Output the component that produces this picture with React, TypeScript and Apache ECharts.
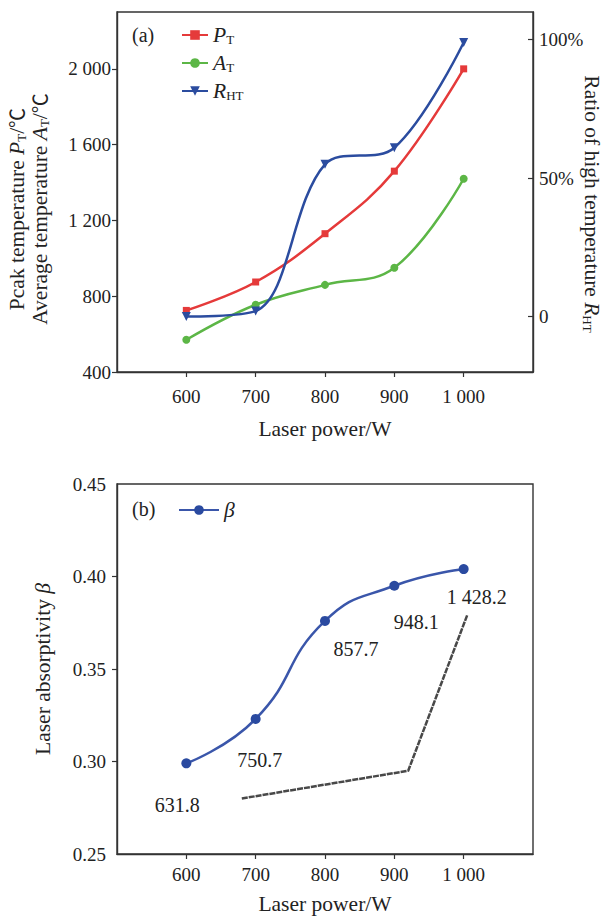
import React, { useEffect, useRef } from 'react';
import * as echarts from 'echarts';

const laserPower = [600, 700, 800, 900, 1000];
const xTickLabels = ['600', '700', '800', '900', '1 000'];
const peakTemp = [725, 875, 1130, 1460, 2000];
const avgTemp = [570, 755, 860, 950, 1420];
const highTempRatio = [0, 2, 55, 61, 99];
const tempTicks = [400, 800, 1200, 1600, 2000];
const tempTickLabels = ['400', '800', '1 200', '1 600', '2 000'];
const ratioTicks = [0, 50, 100];
const ratioTickLabels = ['0', '50%', '100%'];
const absorptivity = [0.299, 0.323, 0.376, 0.395, 0.404];
const absTicks = [0.25, 0.3, 0.35, 0.4, 0.45];
const absTickLabels = ['0.25', '0.30', '0.35', '0.40', '0.45'];
const avgTempLabels = ['631.8', '750.7', '857.7', '948.1', '1 428.2'];
const trendX = [680, 920, 1005];
const trendY = [0.28, 0.295, 0.379];

const labelOffsets = [[-9, 42], [4, 41], [31, 28], [22, 36], [13, 28]];

const SERIF = '"Liberation Serif", "Times New Roman", serif';
const CJK = '"Noto Sans CJK SC", "Liberation Serif", serif';
const TXT = '#222';
const AXIS = '#333';

const rich = {
  i: { fontStyle: 'italic', fontSize: 21.5, fontFamily: SERIF, color: TXT },
  s: { fontSize: 13, lineHeight: 12, verticalAlign: 'bottom', fontFamily: SERIF, color: TXT },
  c: { fontSize: 20, fontFamily: CJK, color: TXT },
};

const lookup = (ticks: number[], labels: string[]) => (v: number) => {
  const i = ticks.findIndex((t) => Math.abs(t - v) < 1e-9);
  return i >= 0 ? labels[i] : '';
};

const legendNames: Record<string, string> = {
  PT: '{i|P}{s|T}',
  AT: '{i|A}{s|T}',
  RHT: '{i|R}{s|HT}',
  beta: '{i|β}',
};

export default function App() {
  const ref = useRef<HTMLDivElement>(null);
  useEffect(() => {
    if (!ref.current) return;
    const chart = echarts.init(ref.current, undefined, { renderer: 'svg' });
    const axisLine = { show: true, onZero: false, lineStyle: { color: AXIS, width: 1.4 } };
    const labelStyle = { fontFamily: SERIF, fontSize: 19, color: TXT };
    const xAxisBase = (gridIndex: number, margin: number, nameGap: number) => ({
      type: 'value',
      gridIndex,
      min: 500,
      max: 1100,
      axisLine,
      splitLine: { show: false },
      axisTick: { show: true, inside: false, length: 5, customValues: laserPower, lineStyle: { color: AXIS, width: 1.2 } },
      axisLabel: { ...labelStyle, margin, customValues: laserPower, formatter: lookup(laserPower, xTickLabels) },
      name: 'Laser power/W',
      nameLocation: 'middle',
      nameGap,
      nameMoveOverlap: false,
      nameTextStyle: { fontFamily: SERIF, fontSize: 21.5, color: TXT },
    });
    const legendItem = (name: string, left: number, top: number, itemWidth: number) => ({
      left, top, orient: 'vertical', itemWidth, itemHeight: 12,
      data: [name],
      formatter: (n: string) => legendNames[n],
      textStyle: { fontFamily: SERIF, fontSize: 20, color: TXT, rich },
    });
    const option: any = {
      animation: false,
      backgroundColor: '#fff',
      textStyle: { fontFamily: SERIF },
      grid: [
        { left: 117, top: 12, width: 416, height: 360, show: true, borderColor: AXIS, borderWidth: 1.4, backgroundColor: 'transparent', outerBoundsMode: 'none' },
        { left: 117, top: 484, width: 416, height: 370, show: true, borderColor: AXIS, borderWidth: 1.4, backgroundColor: 'transparent', outerBoundsMode: 'none' },
      ],
      xAxis: [xAxisBase(0, 15, 46), xAxisBase(1, 11, 39)],
      yAxis: [
        {
          type: 'value', gridIndex: 0, position: 'left', min: 400, max: 2300,
          axisLine, splitLine: { show: false },
          axisTick: { show: true, length: 5, customValues: tempTicks, lineStyle: { color: AXIS, width: 1.2 } },
          axisLabel: { ...labelStyle, margin: 6, customValues: tempTicks, formatter: lookup(tempTicks, tempTickLabels) },
          name: 'Pcak temperature {i|P}{s|T}/{c|℃}\nAverage temperature {i|A}{s|T}/{c|℃}',
          nameLocation: 'middle', nameGap: 66, nameRotate: 90, nameMoveOverlap: false,
          nameTextStyle: { fontFamily: SERIF, fontSize: 21.5, lineHeight: 23, color: TXT, rich, padding: [0, 34, 0, 0] },
        },
        {
          type: 'value', gridIndex: 0, position: 'right', min: -20, max: 110,
          axisLine, splitLine: { show: false },
          axisTick: { show: true, inside: true, length: 5, customValues: ratioTicks, lineStyle: { color: AXIS, width: 1.2 } },
          axisLabel: { ...labelStyle, margin: 6, customValues: ratioTicks, formatter: lookup(ratioTicks, ratioTickLabels) },
          name: 'Ratio of high temperature {i|R}{s|HT}',
          nameLocation: 'middle', nameGap: 48, nameRotate: -90, nameMoveOverlap: false,
          nameTextStyle: { fontFamily: SERIF, fontSize: 21.5, color: TXT, rich, padding: [0, 0, 0, 24] },
        },
        {
          type: 'value', gridIndex: 1, position: 'left', min: 0.25, max: 0.45,
          axisLine, splitLine: { show: false },
          axisTick: { show: true, length: 5, customValues: [0.3, 0.35, 0.4], lineStyle: { color: AXIS, width: 1.2 } },
          axisLabel: { ...labelStyle, margin: 11, customValues: absTicks, formatter: lookup(absTicks, absTickLabels) },
          name: 'Laser absorptivity {i|β}',
          nameLocation: 'middle', nameGap: 63, nameRotate: 90, nameMoveOverlap: false,
          nameTextStyle: { fontFamily: SERIF, fontSize: 21.5, color: TXT, rich },
        },
      ],
      legend: [
        legendItem('PT', 176, 19, 26),
        legendItem('AT', 176, 47, 26),
        legendItem('RHT', 176, 75, 26),
        legendItem('beta', 173, 494, 40),
      ],
      graphic: [
        { type: 'text', left: 132, top: 25, style: { text: '(a)', font: `20px ${SERIF}`, fill: TXT } },
        { type: 'text', left: 132, top: 499, style: { text: '(b)', font: `20px ${SERIF}`, fill: TXT } },
      ],
      series: [
        {
          name: 'PT', type: 'line', xAxisIndex: 0, yAxisIndex: 0, smooth: 0.4,
          data: laserPower.map((x, i) => [x, peakTemp[i]]),
          symbol: 'rect', symbolSize: 7,
          lineStyle: { color: '#e53a3a', width: 2.5 }, itemStyle: { color: '#e53a3a' },
        },
        {
          name: 'AT', type: 'line', xAxisIndex: 0, yAxisIndex: 0, smooth: 0.4,
          data: laserPower.map((x, i) => [x, avgTemp[i]]),
          symbol: 'circle', symbolSize: 8,
          lineStyle: { color: '#5cb646', width: 2.5 }, itemStyle: { color: '#5cb646' },
        },
        {
          name: 'RHT', type: 'line', xAxisIndex: 0, yAxisIndex: 1, smooth: 0.35,
          data: laserPower.map((x, i) => [x, highTempRatio[i]]),
          symbol: 'triangle', symbolRotate: 180, symbolSize: 9,
          lineStyle: { color: '#2b4c9f', width: 2.5 }, itemStyle: { color: '#2b4c9f' },
        },
        {
          name: 'beta', type: 'line', xAxisIndex: 1, yAxisIndex: 2, smooth: 0.5,
          data: laserPower.map((x, i) => ({
            value: [x, absorptivity[i]],
            label: { offset: labelOffsets[i] },
          })),
          symbol: 'circle', symbolSize: 10,
          lineStyle: { color: '#3a56aa', width: 2.5 }, itemStyle: { color: '#2a4aa0' },
          label: {
            show: true, position: 'inside', fontFamily: SERIF, fontSize: 20, color: TXT,
            formatter: (p: any) => avgTempLabels[p.dataIndex],
          },
        },
        {
          name: 'trend', type: 'line', xAxisIndex: 1, yAxisIndex: 2,
          data: trendX.map((x, i) => [x, trendY[i]]),
          symbol: 'none', silent: true,
          lineStyle: { color: '#484848', width: 2.5, type: [6, 1] },
        },
      ],
    };
    chart.setOption(option);
    return () => chart.dispose();
  }, []);
  return (
    <div
      ref={ref}
      style={{ position: 'absolute', left: 0, top: 0, width: 607, height: 917, background: '#fff' }}
    />
  );
}
